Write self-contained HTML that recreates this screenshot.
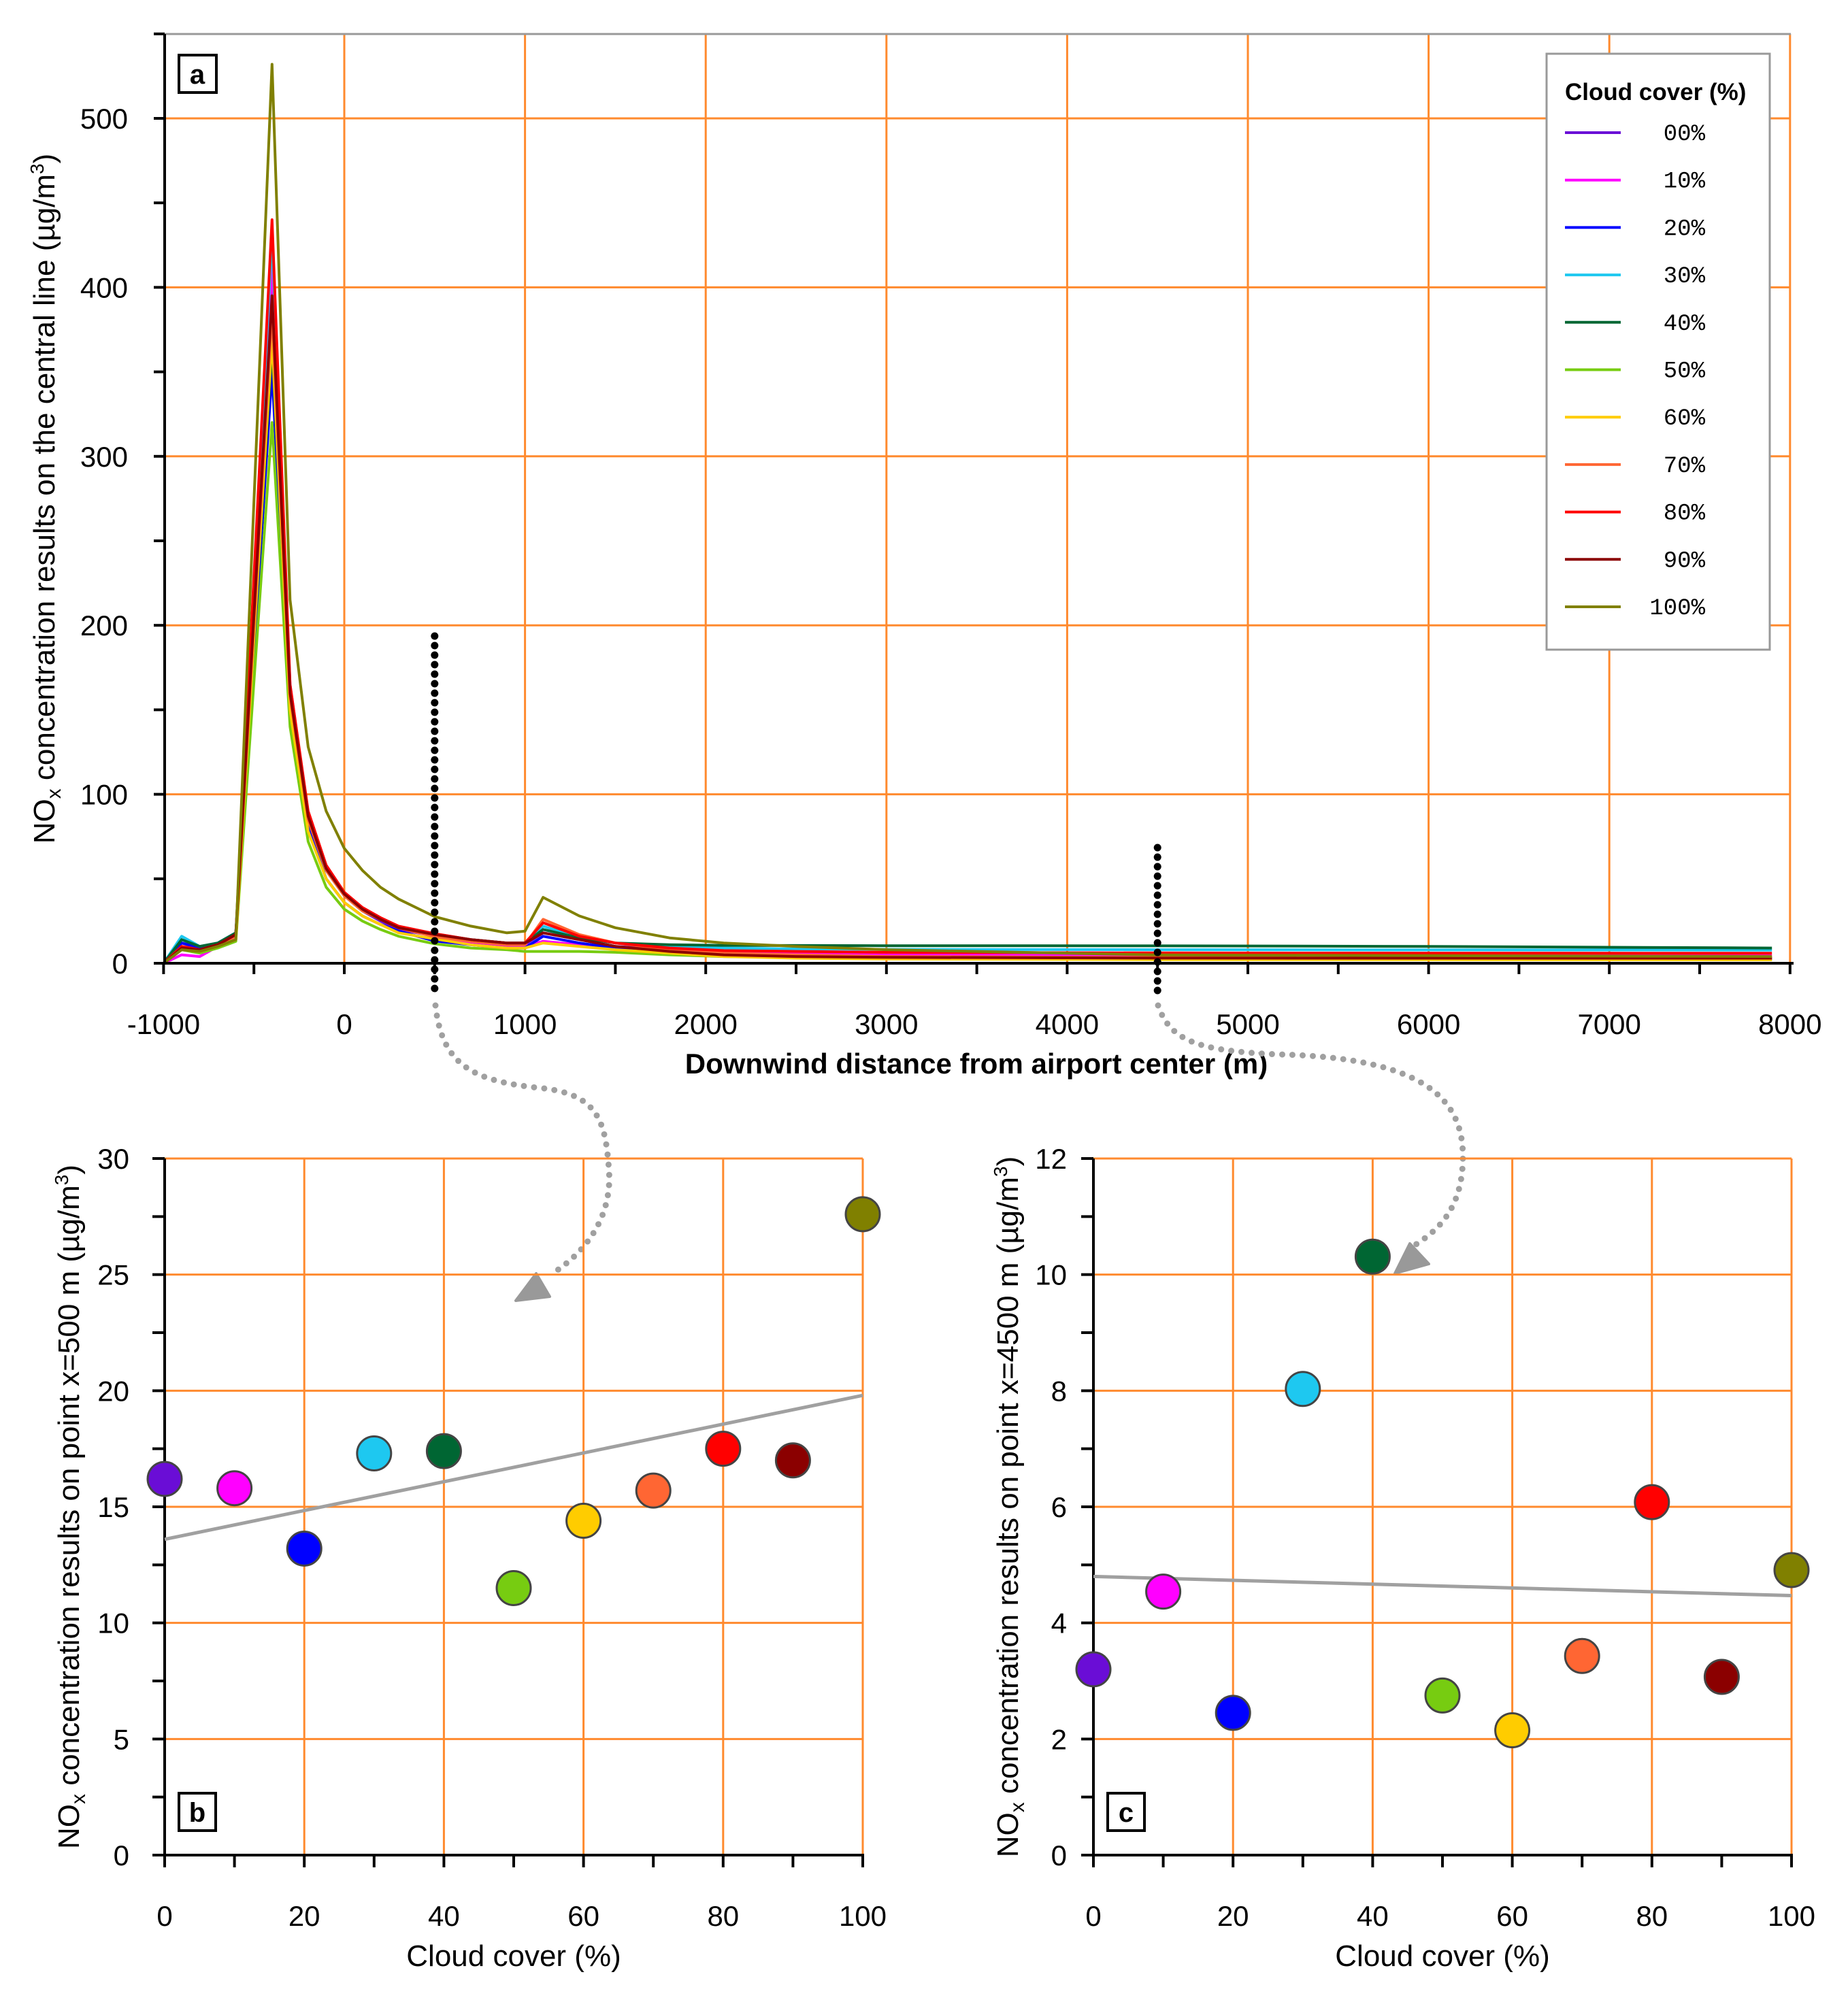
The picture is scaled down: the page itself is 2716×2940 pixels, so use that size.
<!DOCTYPE html>
<html><head><meta charset="utf-8"><style>
html,body{margin:0;padding:0;background:#fff}
svg{display:block;font-family:"Liberation Sans",sans-serif}
</style></head><body>
<svg id="fig" width="2716" height="2940" viewBox="0 0 2716 2940" xmlns="http://www.w3.org/2000/svg"></svg>
<script>
const NS="http://www.w3.org/2000/svg";
const svg=document.getElementById('fig');
// ---- data ----
const seriesNames=["00%","10%","20%","30%","40%","50%","60%","70%","80%","90%","100%"];
const seriesColors=["#6a0dd6","#ff00ff","#0000ff","#1ec8f0","#006633","#77cc11","#ffcc00","#ff6633","#ff0000","#8b0000","#808000"];
const distX=[-1000,-900,-800,-700,-600,-400,-300,-200,-100,0,100,200,300,500,700,900,1000,1100,1300,1500,1800,2100,2500,3000,4500,6000,7900];
const s00=[0,12,9,11,17,405,160,85,55,40,31,25,20,16.2,13,11,11,18,14,10,8,6.5,5,4,3.2,3.1,3];
const s10=[0,5,4,10,16,415,165,88,57,41,32,26,21,15.8,12,10,10,13,11,9,7,6,5.5,5,4.5,4.5,4.4];
const s20=[0,12,9,12,18,350,150,80,50,36,28,23,19,13.2,11,9,9,16,12,9,7,5,4,3,2.45,2.4,2.3];
const s30=[0,16,10,12,18,430,162,88,57,41,32,26,21,17.3,14,12,12,22,15,12,10,9,8.5,8.2,8.0,7.9,7.8];
const s40=[0,14,10,12,18,365,155,85,55,40,31,26,21,17.4,14,12,12,20,15,12,11,10.6,10.5,10.4,10.3,10,9];
const s50=[0,8,6,9,13,320,140,72,45,32,25,20,16,11.5,9,8,7,7,7,6.5,5,4,3.5,3,2.75,2.7,2.6];
const s60=[0,9,7,10,14,370,150,78,50,36,28,23,18,14.4,11,9,9,12,10,8,6,4,3,2.5,2.15,2.1,2];
const s70=[0,10,8,11,16,385,158,85,55,40,31,26,21,15.7,13,11,11,26,17,12,8,6,5,4,3.43,3.4,3.3];
const s80=[0,10,8,11,17,440,165,90,58,42,33,27,22,17.5,14,12,12,24,16,12,9,7.5,7,6.5,6.1,6,5.9];
const s90=[0,9,8,11,17,395,160,87,56,41,32,26,21,17.0,14,12,12,18,14,10,7,5,4,3.5,3.07,3,3];
const s100=[0,8,7,10,14,532,215,128,90,68,55,45,38,27.6,22,18,19,39,28,21,15,12,10,8,4.9,4.5,4];
const allSeries=[s00,s10,s20,s30,s40,s50,s60,s70,s80,s90,s100];
const cloudCats=[0,10,20,30,40,50,60,70,80,90,100];
const valsB=[16.2,15.8,13.2,17.3,17.4,11.5,14.4,15.7,17.5,17.0,27.6];
const valsC=[3.2,4.54,2.45,8.03,10.31,2.75,2.15,3.43,6.08,3.07,4.91];
const trendB=[13.6,19.8];
const trendC=[4.8,4.47];
const ticksAx=[-1000,0,1000,2000,3000,4000,5000,6000,7000,8000];
const ticksAy=[0,100,200,300,400,500];
const ticksCloud=[0,20,40,60,80,100];
const ticksBy=[0,5,10,15,20,25,30];
const ticksCy=[0,2,4,6,8,10,12];
// ---- helpers ----
function el(tag,attrs,parent){const e=document.createElementNS(NS,tag);for(const k in attrs)e.setAttribute(k,attrs[k]);(parent||svg).appendChild(e);return e;}
const GRID="#ff8a2e";
const TF=42, TT=44;
// ---- panel a ----
const ax=v=>506+(v/1000)*265.6;
const ay=v=>1416-(v/100)*248.4;
const ga=el('g',{});


ticksAx.forEach(t=>{if(t>-1000){const l=el('line',{x1:ax(t),x2:ax(t),y1:50,y2:1416,stroke:GRID,'stroke-width':3},ga);}});
ticksAy.forEach(t=>{if(t>0){const l=el('line',{x1:242,x2:2632,y1:ay(t),y2:ay(t),stroke:GRID,'stroke-width':3},ga);}});
el('line',{x1:242,x2:2632,y1:50,y2:50,stroke:"#999",'stroke-width':3},ga);
allSeries.forEach((s,i)=>{
  const d=s.map((v,j)=>(j?'L':'M')+ax(distX[j]).toFixed(1)+','+ay(v).toFixed(1)).join(' ');
  const p=el('path',{d:d,fill:'none',stroke:seriesColors[i],'stroke-width':4,'stroke-linejoin':'round'},ga);
  
  
});
// axes
el('line',{x1:242,x2:242,y1:50,y2:1416,stroke:'#000','stroke-width':4},ga);
el('line',{x1:230,x2:2636,y1:1416,y2:1416,stroke:'#000','stroke-width':4},ga);
for(let v=-1000;v<=8000;v+=500){el('line',{x1:ax(v),x2:ax(v),y1:1416,y2:1432,stroke:'#000','stroke-width':4},ga);}
for(let v=0;v<=550;v+=50){el('line',{x1:226,x2:242,y1:ay(v),y2:ay(v),stroke:'#000','stroke-width':4},ga);}
ticksAx.forEach(t=>{const tx=el('text',{x:ax(t),y:1520,'font-size':TF,'text-anchor':'middle',fill:'#000'},ga);tx.textContent=t;});
ticksAy.forEach(t=>{const tx=el('text',{x:188,y:ay(t)+15,'font-size':TF,'text-anchor':'end',fill:'#000'},ga);tx.textContent=t;});
let t=el('text',{x:1435,y:1578,'font-size':42,'font-weight':'bold','text-anchor':'middle'},ga);
t.textContent='Downwind distance from airport center (m)';


t=el('text',{x:0,y:0,'font-size':TT,'text-anchor':'middle',transform:'translate(80,733) rotate(-90)'},ga);
t.innerHTML='NO<tspan font-size="30" dy="9">x</tspan><tspan dy="-9"> concentration results on the central line (µg/m</tspan><tspan font-size="28" dy="-16">3</tspan><tspan dy="16">)</tspan>';


// panel label a
el('rect',{x:263,y:81,width:55,height:55,fill:'#fff',stroke:'#000','stroke-width':4},ga);
t=el('text',{x:290,y:123,'font-size':40,'font-weight':'bold','text-anchor':'middle'},ga);t.textContent='a';


// legend
const lg=el('g',{});


el('rect',{x:2273,y:79,width:328,height:876,fill:'#fff',stroke:'#999','stroke-width':3},lg);
t=el('text',{x:2300,y:147,'font-size':35,'font-weight':'bold'},lg);t.textContent='Cloud cover (%)';


seriesNames.forEach((n,i)=>{
  const y=195+i*69.7;
  const g=el('g',{},lg);
  
  
  el('line',{x1:2300,x2:2382,y1:y,y2:y,stroke:seriesColors[i],'stroke-width':4},g);
  const tx=el('text',{x:2506,y:y+11,'font-size':34,'text-anchor':'end','font-family':'"Liberation Mono",monospace'},g);tx.textContent=n;
});
// dotted markers
function dots(x,y1,y2,name){const l=el('line',{x1:x,x2:x,y1:y1,y2:y2,stroke:'#000','stroke-width':11,'stroke-linecap':'round','stroke-dasharray':'0 14'});}
dots(ax(500),935,1462,'marker-500m');
dots(ax(4500),1246,1466,'marker-4500m');
// arrows
function arrow(d,head,name){const g=el('g',{});
 el('path',{d:d,fill:'none',stroke:'#a0a0a0','stroke-width':9,'stroke-linecap':'round','stroke-dasharray':'0 15'},g);
 el('polygon',{points:head,fill:'#999',stroke:'#999','stroke-width':4,'stroke-linejoin':'round'},g);}
arrow('M640,1478 C650,1570 700,1590 800,1600 C880,1610 890,1650 895,1720 C900,1790 860,1840 815,1870','758,1912 808,1906 788,1872','arrow-to-b');
arrow('M1702,1478 C1720,1530 1760,1545 1880,1550 C2100,1555 2150,1620 2150,1700 C2150,1780 2110,1810 2080,1830','2050,1872 2100,1858 2072,1828','arrow-to-c');
// ---- scatter panels ----
function scatter(x0,x1,yMax,ticksY,vals,trend,lbl,yTitleX,tickRight,title){
  const y0=2727,yTop=1703;
  const sx=v=>x0+(v/100)*(x1-x0);
  const sy=v=>y0-(v/yMax)*(y0-yTop);
  const g=el('g',{});
  
  
  ticksCloud.forEach(c=>{if(c>0){const l=el('line',{x1:sx(c),x2:sx(c),y1:yTop,y2:y0,stroke:GRID,'stroke-width':3},g);}});
  ticksY.forEach(v=>{if(v>0){const l=el('line',{x1:x0,x2:x1,y1:sy(v),y2:sy(v),stroke:GRID,'stroke-width':3},g);}});
  el('line',{x1:x0,x2:x0,y1:yTop,y2:y0,stroke:'#000','stroke-width':4},g);
  el('line',{x1:x0-10,x2:x1+2,y1:y0,y2:y0,stroke:'#000','stroke-width':4},g);
  for(let c=0;c<=100;c+=10)el('line',{x1:sx(c),x2:sx(c),y1:y0,y2:y0+18,stroke:'#000','stroke-width':4},g);
  const step=ticksY[1]/2;
  for(let v=0;v<=yMax+1e-9;v+=step)el('line',{x1:x0-18,x2:x0,y1:sy(v),y2:sy(v),stroke:'#000','stroke-width':4},g);
  ticksCloud.forEach(c=>{const tx=el('text',{x:sx(c),y:2831,'font-size':TF,'text-anchor':'middle'},g);tx.textContent=c;});
  ticksY.forEach(v=>{const tx=el('text',{x:tickRight,y:sy(v)+15,'font-size':TF,'text-anchor':'end'},g);tx.textContent=v;});
  const tl=el('line',{x1:sx(0),x2:sx(100),y1:sy(trend[0]),y2:sy(trend[1]),stroke:'#a0a0a0','stroke-width':5},g);
  
  
  vals.forEach((v,i)=>{const c=el('circle',{cx:sx(cloudCats[i]),cy:sy(v),r:25,fill:seriesColors[i],stroke:'#444','stroke-width':3},g);
    
    });
  let tx=el('text',{x:(x0+x1)/2,y:2890,'font-size':TT,'text-anchor':'middle'},g);tx.textContent='Cloud cover (%)';
  
  
  tx=el('text',{x:0,y:0,'font-size':TT,'text-anchor':'middle',transform:'translate('+yTitleX+',2215) rotate(-90)'},g);
  tx.innerHTML='NO<tspan font-size="30" dy="9">x</tspan><tspan dy="-9"> concentration results on point '+title+' (µg/m</tspan><tspan font-size="28" dy="-16">3</tspan><tspan dy="16">)</tspan>';
  
  
  el('rect',{x:x0+21,y:2636,width:54,height:55,fill:'#fff',stroke:'#000','stroke-width':4},g);
  tx=el('text',{x:x0+48,y:2678,'font-size':40,'font-weight':'bold','text-anchor':'middle'},g);tx.textContent=lbl;
  
  
}
scatter(242,1268,30,ticksBy,valsB,trendB,'b',116,190,'x=500 m');
scatter(1607,2633,12,ticksCy,valsC,trendC,'c',1496,1568,'x=4500 m');
</script>
</body></html>
